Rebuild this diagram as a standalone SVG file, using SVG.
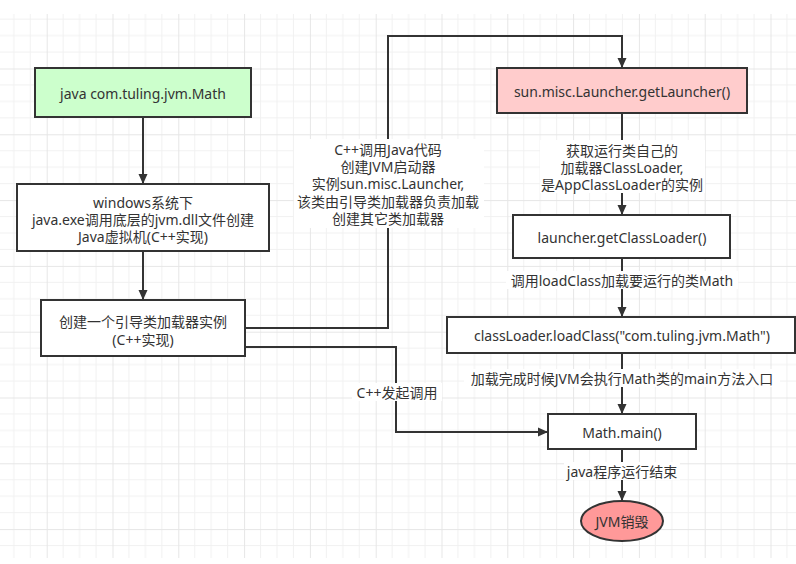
<svg xmlns="http://www.w3.org/2000/svg" width="796" height="564" viewBox="0 0 796 564">
<style>
  text { font-family: "Noto Sans", "Noto Sans CJK SC", sans-serif; font-size: 14px; fill: #333; text-anchor: middle; dominant-baseline: central; }
  .box { stroke: #333; stroke-width: 2; }
  .edge { fill: none; stroke: #333; stroke-width: 2; }
  .lbl { fill: #fff; }
</style>
<defs>
  <pattern id="grid" patternUnits="userSpaceOnUse" x="-19.1" y="2.7" width="65.8" height="65.8">
    <path d="M16.45 0V65.8M32.9 0V65.8M49.35 0V65.8M0 16.45H65.8M0 32.9H65.8M0 49.35H65.8" stroke="#f1f1f1" stroke-width="1" fill="none"/>
    <path d="M0.5 0V65.8M0 0.5H65.8" stroke="#e6e6e6" stroke-width="1" fill="none"/>
  </pattern>
  <marker id="arr" markerWidth="10" markerHeight="10" refX="9" refY="5" orient="auto" markerUnits="userSpaceOnUse">
    <path d="M0,0.5 L10,5 L0,9.5 Z" fill="#333"/>
  </marker>
</defs>
<rect x="0" y="0" width="796" height="564" fill="#fff"/>
<rect x="0" y="14" width="796" height="544" fill="url(#grid)"/>

<g id="connectors">
  <path class="edge" d="M143,117 V183" marker-end="url(#arr)"/>
  <path class="edge" d="M143,251 V299" marker-end="url(#arr)"/>
  <path class="edge" d="M245,328 H388 V36 H622 V67" marker-end="url(#arr)"/>
  <path class="edge" d="M245,347 H396 V432 H547" marker-end="url(#arr)"/>
  <path class="edge" d="M622,113 V214" marker-end="url(#arr)"/>
  <path class="edge" d="M622,258 V316" marker-end="url(#arr)"/>
  <path class="edge" d="M622,353 V413" marker-end="url(#arr)"/>
  <path class="edge" d="M622,449 V500" marker-end="url(#arr)"/>

  <g id="label-launcher">
    <rect class="lbl" x="294" y="139" width="190" height="89"/>
    <text x="388" y="149">C++调用Java代码</text>
    <text x="388" y="166">创建JVM启动器</text>
    <text x="388" y="183.5">实例sun.misc.Launcher,</text>
    <text x="388" y="201">该类由引导类加载器负责加载</text>
    <text x="388" y="218">创建其它类加载器</text>
  </g>
  <g id="label-cpp">
    <rect class="lbl" x="352" y="383" width="90" height="18"/>
    <text x="397" y="392">C++发起调用</text>
  </g>
  <g id="label-getcl">
    <rect class="lbl" x="540" y="140" width="165" height="53"/>
    <text x="622" y="150">获取运行类自己的</text>
    <text x="622" y="167">加载器ClassLoader,</text>
    <text x="622" y="184.5">是AppClassLoader的实例</text>
  </g>
  <g id="label-loadclass">
    <rect class="lbl" x="506" y="271" width="232" height="18"/>
    <text x="622" y="280">调用loadClass加载要运行的类Math</text>
  </g>
  <g id="label-main">
    <rect class="lbl" x="464" y="369" width="316" height="18"/>
    <text x="622" y="378">加载完成时候JVM会执行Math类的main方法入口</text>
  </g>
  <g id="label-end">
    <rect class="lbl" x="564" y="462" width="116" height="18"/>
    <text x="622" y="471">java程序运行结束</text>
  </g>
</g>

<g id="node-java">
  <rect class="box" x="35" y="68" width="216" height="49" fill="#ccffcc"/>
  <text x="143" y="93">java com.tuling.jvm.Math</text>
</g>
<g id="node-windows">
  <rect class="box" x="17" y="184" width="252" height="67" fill="#fff"/>
  <text x="143" y="202">windows系统下</text>
  <text x="143" y="219">java.exe调用底层的jvm.dll文件创建</text>
  <text x="143" y="236">Java虚拟机(C++实现)</text>
</g>
<g id="node-bootstrap">
  <rect class="box" x="41" y="300" width="204" height="56" fill="#fff"/>
  <text x="143" y="321">创建一个引导类加载器实例</text>
  <text x="143" y="339">(C++实现)</text>
</g>
<g id="node-getlauncher">
  <rect class="box" x="497" y="68" width="250" height="45" fill="#ffcccc"/>
  <text x="622" y="91">sun.misc.Launcher.getLauncher()</text>
</g>
<g id="node-getclassloader">
  <rect class="box" x="513" y="215" width="217" height="43" fill="#fff"/>
  <text x="622" y="237">launcher.getClassLoader()</text>
</g>
<g id="node-loadclass">
  <rect class="box" x="447" y="317" width="348" height="36" fill="#fff"/>
  <text x="622" y="335">classLoader.loadClass("com.tuling.jvm.Math")</text>
</g>
<g id="node-main">
  <rect class="box" x="548" y="414" width="148" height="35" fill="#fff"/>
  <text x="622" y="432">Math.main()</text>
</g>
<g id="node-destroy">
  <ellipse class="box" cx="622" cy="521" rx="41" ry="20" fill="#ff9999"/>
  <text x="622" y="521">JVM销毁</text>
</g>
</svg>
